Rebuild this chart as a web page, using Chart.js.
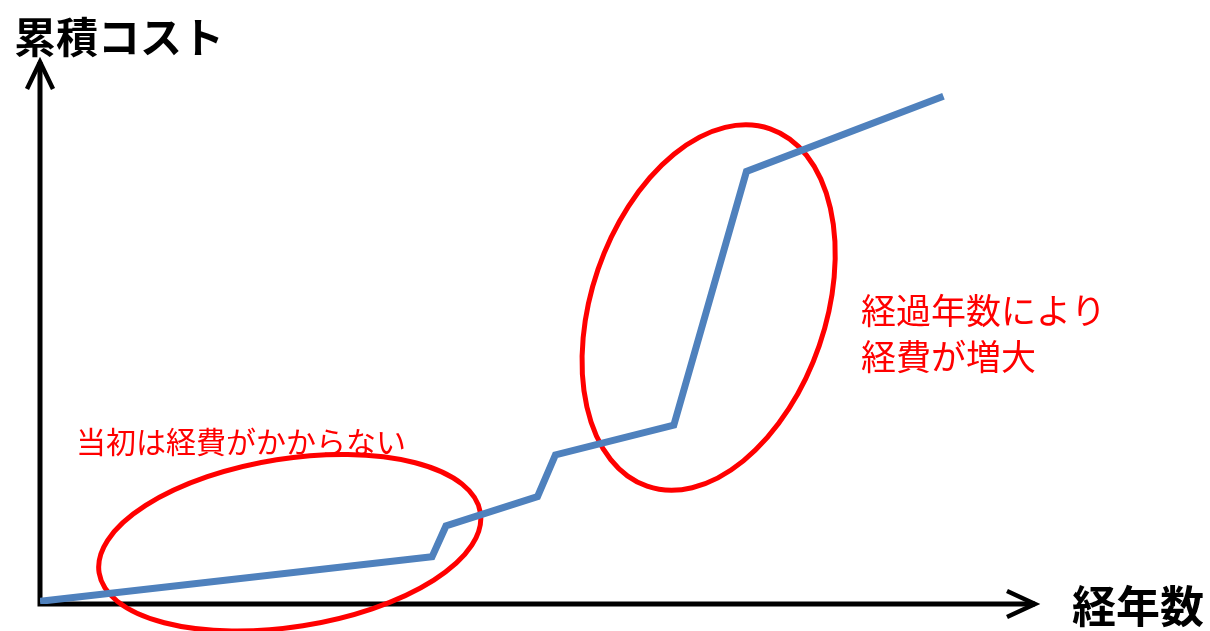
<!DOCTYPE html>
<html lang="ja">
<head>
<meta charset="utf-8">
<title>累積コスト</title>
<script src="https://cdn.jsdelivr.net/npm/chart.js@4/dist/chart.umd.min.js"></script>
<style>
    html, body { margin: 0; padding: 0; background: #ffffff; }
    #wrap { width: 1210px; height: 631px; position: relative; }
</style>
</head>
<body>
<div id="wrap"><canvas id="costChart" width="1210" height="631"></canvas></div>
<script>
    // Data (axis units are 0-100 on both axes, no ticks shown)
    const years = [0, 39.4, 40.8, 50.0, 51.8, 63.7, 71.0, 90.8];
    const cost = [0.5, 8.7, 14.4, 19.8, 27.5, 33.0, 79.8, 93.7];

    const yTitle = '累積コスト';
    const xTitle = '経年数';
    const noteEarly = '当初は経費がかからない';
    const noteLate = ['経過年数により', '経費が増大'];

    // Ellipse centres in data units
    const ellipseX = [25.1, 67.2];
    const ellipseY = [11.3, 54.7];

    const JP = '"Noto Sans CJK JP", "Noto Sans", sans-serif';
    const RED = '#ff0000';
    const BLUE = '#4f81bd';

    // Red ellipses, drawn under the line
    const ellipsePlugin = {
        id: 'ellipses',
        beforeDatasetsDraw(chart) {
            const { ctx, scales: { x, y } } = chart;
            const shapes = [
                { rx: 193, ry: 84, rot: -9 },
                { rx: 117, ry: 189, rot: 19 }
            ];
            ctx.save();
            ctx.strokeStyle = RED;
            ctx.lineWidth = 5;
            shapes.forEach((s, i) => {
                ctx.beginPath();
                ctx.ellipse(x.getPixelForValue(ellipseX[i]), y.getPixelForValue(ellipseY[i]),
                    s.rx, s.ry, s.rot * Math.PI / 180, 0, Math.PI * 2);
                ctx.stroke();
            });
            ctx.restore();
        }
    };

    // Axes with open arrow heads
    const axesPlugin = {
        id: 'arrowAxes',
        beforeDatasetsDraw(chart) {
            const { ctx, chartArea: a } = chart;
            ctx.save();
            ctx.strokeStyle = '#000000';
            ctx.lineWidth = 5;
            ctx.lineCap = 'butt';
            ctx.beginPath();
            ctx.moveTo(a.left, a.top);
            ctx.lineTo(a.left, a.bottom);
            ctx.lineTo(a.right, a.bottom);
            ctx.stroke();

            ctx.lineWidth = 4.5;
            ctx.lineJoin = 'miter';
            ctx.beginPath();
            ctx.moveTo(a.left - 13, a.top + 27);
            ctx.lineTo(a.left, a.top);
            ctx.lineTo(a.left + 13, a.top + 27);
            ctx.stroke();

            ctx.beginPath();
            ctx.moveTo(a.right - 28, a.bottom - 13);
            ctx.lineTo(a.right, a.bottom);
            ctx.lineTo(a.right - 28, a.bottom + 13);
            ctx.stroke();
            ctx.restore();
        }
    };

    const labelPlugin = {
        id: 'labels',
        afterDraw(chart) {
            const ctx = chart.ctx;
            ctx.save();
            ctx.textAlign = 'left';
            ctx.textBaseline = 'middle';

            ctx.fillStyle = '#000000';
            ctx.font = 'bold 42px ' + JP;
            ctx.fillText(yTitle, 14, 37);
            ctx.font = 'bold 44px ' + JP;
            ctx.fillText(xTitle, 1072, 606);

            ctx.fillStyle = RED;
            ctx.font = '30px ' + JP;
            ctx.fillText(noteEarly, 76, 442);
            ctx.font = '35px ' + JP;
            ctx.fillText(noteLate[0], 861, 311);
            ctx.fillText(noteLate[1], 861, 357);
            ctx.restore();
        }
    };

    new Chart(document.getElementById('costChart'), {
        type: 'line',
        data: {
            datasets: [{
                data: years.map((v, i) => ({ x: v, y: cost[i] })),
                borderColor: BLUE,
                borderWidth: 7,
                borderJoinStyle: 'miter',
                borderCapStyle: 'butt',
                pointRadius: 0,
                tension: 0,
                fill: false
            }]
        },
        options: {
            responsive: false,
            devicePixelRatio: 1,
            animation: false,
            layout: { padding: { left: 40, top: 62, right: 175, bottom: 27 } },
            plugins: {
                legend: { display: false },
                tooltip: { enabled: false }
            },
            scales: {
                x: { type: 'linear', min: 0, max: 100, display: false },
                y: { type: 'linear', min: 0, max: 100, display: false }
            }
        },
        plugins: [axesPlugin, ellipsePlugin, labelPlugin]
    });
</script>
</body>
</html>
